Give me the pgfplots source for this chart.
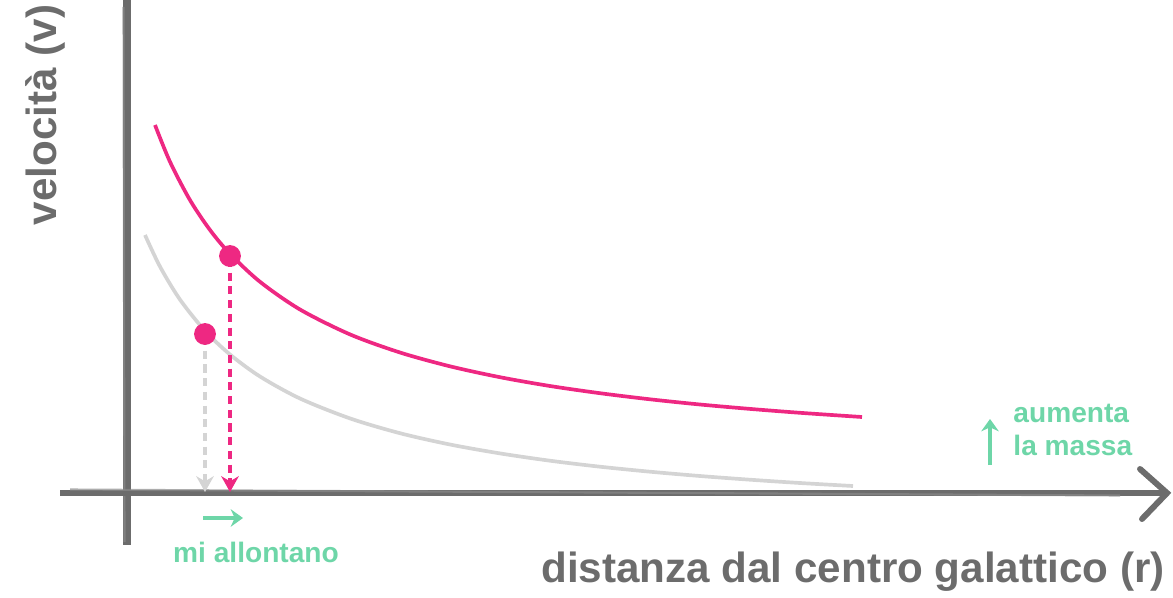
\documentclass[border=0pt]{standalone}
\usepackage{pgfplots}
\pgfplotsset{compat=1.18}
\usepackage{fontspec}
\setmainfont{Liberation Sans}
\usetikzlibrary{arrows.meta}
\definecolor{pinkc}{RGB}{238,40,130}
\definecolor{lgray}{RGB}{212,212,212}
\definecolor{dgray}{RGB}{108,108,108}
\definecolor{greenc}{RGB}{110,214,168}
\begin{document}
\begin{tikzpicture}
\begin{axis}[scale only axis, width=11.73cm, height=5.97cm,
  xmin=0, xmax=1173, ymin=0, ymax=597, hide axis, clip=false]
% axes (sketchy)
\addplot[dgray, line width=2.0pt] coordinates {(127,597) (127,52)};
\addplot[dgray!80, line width=0.6pt, opacity=0.7] coordinates {(123.5,590) (124.5,55)};
\addplot[dgray, line width=1.8pt] coordinates {(60,104) (1166,104)};
\addplot[dgray!80, line width=0.6pt, opacity=0.7] coordinates {(70,107.5) (1120,101.5)};
\addplot[dgray, line width=1.7pt, line cap=round] coordinates {(1140,128) (1167,104) (1142,78)};
% gray curve
\addplot[lgray, line width=1.05pt, smooth] coordinates {
(145,362.0) (160,330.4) (180,297.4) (205,266.2) (230,242.5) (260,220.5)
(300,198.5) (350,178.6) (400,163.8) (450,152.5) (500,143.6) (550,136.3)
(600,130.3) (650,125.3) (700,121.0) (750,117.3) (800,114.0) (853,111.0)};
% pink curve
\addplot[pinkc, line width=1.05pt, smooth] coordinates {
(155,472.0) (170,435.2) (190,396.9) (210,367.0) (230,343.2) (260,315.2)
(300,287.5) (350,262.6) (400,244.5) (450,230.7) (500,219.8) (550,211.0)
(600,203.8) (650,197.7) (700,192.5) (750,188.1) (800,184.2) (862,180.0)};
% dashed drops
\addplot[lgray, line width=1.1pt, dash pattern=on 2.3pt off 1.6pt, -{Stealth[length=4.5pt,width=5pt]}] coordinates {(205,260) (205,105)};
\addplot[pinkc, line width=1.1pt, dash pattern=on 2.3pt off 1.6pt, -{Stealth[length=4.5pt,width=5pt]}] coordinates {(230,338) (230,105)};
% dots
\addplot[only marks, mark=*, mark size=2.9pt, pinkc] coordinates {(205,263) (230,341)};
% green arrows
\addplot[greenc, line width=1.0pt, -{Stealth[length=3.5pt,width=5pt]}] coordinates {(203,79) (243,79)};
\addplot[greenc, line width=1.0pt, -{Stealth[length=3.5pt,width=5pt]}] coordinates {(990,132) (990,178)};
% texts
\node[font=\fontsize{12}{14}\selectfont\bfseries, text=dgray, rotate=90] at (axis cs:45,482) {velocità (v)};
\node[font=\fontsize{12}{14}\selectfont\bfseries, text=dgray, anchor=east] at (axis cs:1177,25) {distanza dal centro galattico (r)};
\node[font=\fontsize{8}{9.4}\selectfont\bfseries, text=greenc] at (axis cs:256,45) {mi allontano};
\node[font=\fontsize{8}{9.4}\selectfont\bfseries, text=greenc, anchor=west, align=left] at (axis cs:1001,167) {aumenta\\la massa};
\end{axis}
\pgfresetboundingbox
\path (current axis.south west) rectangle (current axis.north east);
\end{tikzpicture}
\end{document}
